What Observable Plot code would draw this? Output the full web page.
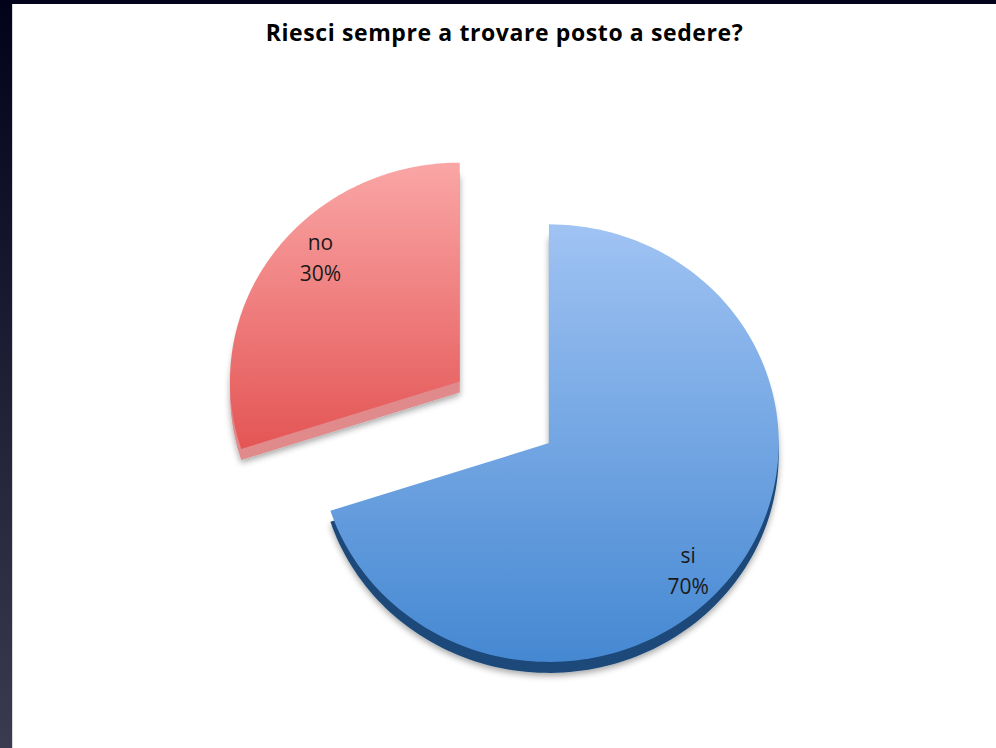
<!DOCTYPE html>
<html>
<head>
<meta charset="utf-8">
<script src="https://cdn.jsdelivr.net/npm/d3@7"></script>
<script src="https://cdn.jsdelivr.net/npm/@observablehq/plot@0.6"></script>
<style>
  html, body { margin: 0; padding: 0; }
  body { width: 996px; height: 748px; overflow: hidden; background: linear-gradient(#02021a, #3a3a50); position: relative; }
  #panel { position: absolute; left: 12px; top: 4px; width: 984px; height: 744px; background: #fff; border-left: 1px solid #d8d8d8; box-sizing: border-box; }
  #title { height: 76px; box-sizing: border-box; padding-top: 13px; text-align: center; font: bold 23px "Open Sans", sans-serif; letter-spacing: 0.6px; line-height: 30px; color: #000; }
  #chart svg { display: block; }
</style>
</head>
<body>
<div id="panel">
  <div id="title">Riesci sempre a trovare posto a sedere?</div>
  <div id="chart"></div>
</div>
<script>
// ---- data ----
const categories = ["si", "no"];
const values = [70, 30];
const percentLabels = ["70%", "30%"];

// ---- styling / layout settings ----
const W = 984, H = 664;
const cx = 536, cy = 363, rx = 230, ry = 219;   // pixel geometry of the pie ellipse
const depthPx = 11;                              // visible thickness of the 3D pie
const explode = {si: 0, no: 0.48};
const gradients = {
  si: {id: "gSi", top: "#a0c3f3", bottom: "#4588d2", side: "#1c4a7a"},
  no: {id: "gNo", top: "#faa6a6", bottom: "#e45555", side: "#e08a8c"}
};
const labelShift = 0.13, labelRadius = 0.835;

const arcs = d3.pie().sort(null).value(d => d)(values);
const depth = depthPx / ry;

function slicePolygon(arc, cat, dy) {
  const mid = (arc.startAngle + arc.endAngle) / 2;
  const ox = explode[cat] * Math.sin(mid), oy = explode[cat] * Math.cos(mid) - dy;
  const pts = [{x: ox, y: oy}];
  const n = 160;
  for (let i = 0; i <= n; i++) {
    const a = arc.startAngle + (arc.endAngle - arc.startAngle) * i / n;
    pts.push({x: ox + Math.sin(a), y: oy + Math.cos(a)});
  }
  pts.push({x: ox, y: oy});
  return pts;
}

const labelData = arcs.map((arc, i) => {
  const cat = categories[i];
  const mid = (arc.startAngle + arc.endAngle) / 2;
  const a = mid + labelShift;
  return {
    x: explode[cat] * Math.sin(mid) + labelRadius * Math.sin(a),
    y: explode[cat] * Math.cos(mid) + labelRadius * Math.cos(a),
    text: cat + "\n" + percentLabels[i]
  };
});

const defsMark = () => {
  const defs = d3.create("svg:defs");
  for (const cat of categories) {
    const g = gradients[cat];
    const lg = defs.append("linearGradient").attr("id", g.id)
      .attr("x1", 0).attr("y1", 0).attr("x2", 0).attr("y2", 1);
    lg.append("stop").attr("offset", "0%").attr("stop-color", g.top);
    lg.append("stop").attr("offset", "100%").attr("stop-color", g.bottom);
  }
  const f = defs.append("filter").attr("id", "shadow")
    .attr("x", "-10%").attr("y", "-10%").attr("width", "120%").attr("height", "125%");
  f.append("feDropShadow").attr("dx", 0).attr("dy", 3).attr("stdDeviation", 3)
    .attr("flood-color", "#000").attr("flood-opacity", 0.35);
  return defs.node();
};

const marks = [defsMark];
arcs.forEach((arc, i) => {
  const cat = categories[i];
  marks.push(Plot.line(slicePolygon(arc, cat, depth), {
    x: "x", y: "y", fill: gradients[cat].side, stroke: "none", className: "side"
  }));
});
arcs.forEach((arc, i) => {
  const cat = categories[i];
  marks.push(Plot.line(slicePolygon(arc, cat, 0), {
    x: "x", y: "y", fill: `url(#${gradients[cat].id})`, stroke: "none"
  }));
});
marks.push(Plot.text(labelData, {
  x: "x", y: "y", text: "text", fontSize: 21, lineHeight: 1.45,
  fontFamily: "Open Sans", fill: "#1a1a1a", lineAnchor: "middle"
}));

const svg = Plot.plot({
  width: W, height: H,
  margin: 0,
  x: {domain: [-1, 1], range: [cx - rx, cx + rx], axis: null},
  y: {domain: [-1, 1], range: [cy + ry, cy - ry], axis: null},
  style: {background: "transparent", overflow: "visible"},
  marks
});
d3.select(svg).selectAll(".side").attr("filter", "url(#shadow)");
document.getElementById("chart").appendChild(svg);
</script>
</body>
</html>
